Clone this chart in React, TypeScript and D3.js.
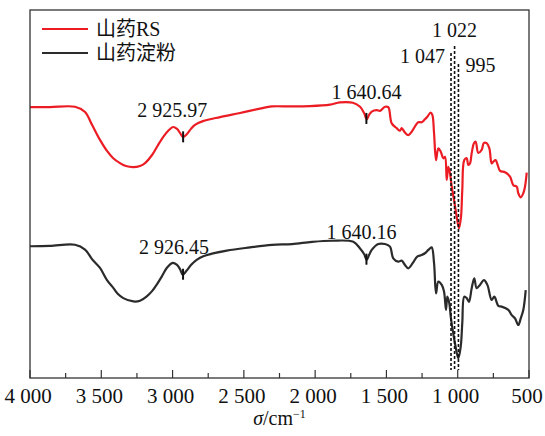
import React from "react";
import * as d3 from "d3";

// Wavenumber (cm^-1) and transmittance readings for each spectrum
const rsWavenumber = [4000, 3860, 3684, 3614, 3565, 3509, 3460, 3418, 3369, 3327, 3278, 3228, 3193, 3144, 3102, 3060, 3032, 2997, 2969, 2948, 2927, 2899, 2871, 2843, 2787, 2667, 2527, 2387, 2303, 2176, 2036, 1896, 1826, 1735, 1685, 1657, 1638, 1622, 1603, 1568, 1545, 1510, 1487, 1463, 1428, 1405, 1393, 1370, 1347, 1323, 1277, 1253, 1230, 1213, 1190, 1178, 1166, 1152, 1136, 1119, 1101, 1089, 1077, 1066, 1054, 1042, 1026, 1007, 991, 977, 968, 954, 937, 926, 914, 902, 886, 874, 856, 832, 816, 797, 778, 762, 750, 734, 720, 703, 668, 633, 610, 586, 575, 558, 540, 528, 516];
const rsValue = [73.6, 73.6, 73.7, 72.3, 68.8, 64.7, 61.7, 59.8, 58.4, 57.6, 57.3, 57.6, 58.4, 60.6, 63.3, 65.8, 67.1, 68.2, 67.7, 66.6, 65.5, 66.3, 67.7, 68.8, 69.8, 70.9, 72.0, 73.2, 73.8, 73.8, 73.9, 74.3, 74.9, 74.8, 73.7, 72.0, 70.3, 71.5, 72.4, 72.8, 72.6, 73.7, 73.6, 69.2, 67.9, 67.2, 67.9, 66.7, 66.0, 66.9, 69.5, 69.5, 70.3, 71.0, 72.1, 71.5, 66.5, 59.2, 62.4, 61.5, 59.7, 60.1, 53.8, 57.4, 55.6, 52.0, 48.4, 43.8, 40.7, 43.8, 51.1, 59.2, 59.7, 57.9, 58.3, 61.1, 63.8, 64.2, 61.2, 62.0, 63.9, 63.8, 62.4, 58.3, 58.8, 59.2, 57.9, 56.3, 55.9, 54.7, 52.4, 52.0, 50.2, 49.1, 50.2, 52.0, 55.8];

const starchWavenumber = [4000, 3860, 3684, 3614, 3565, 3509, 3460, 3416, 3383, 3346, 3275, 3228, 3181, 3144, 3111, 3074, 3041, 2999, 2971, 2948, 2929, 2901, 2871, 2831, 2784, 2620, 2457, 2303, 2162, 2022, 1883, 1732, 1685, 1657, 1638, 1622, 1603, 1557, 1510, 1475, 1452, 1417, 1393, 1370, 1347, 1316, 1284, 1253, 1230, 1206, 1183, 1166, 1152, 1136, 1112, 1096, 1082, 1073, 1059, 1049, 1035, 1019, 996, 979, 968, 954, 937, 921, 902, 884, 867, 844, 816, 792, 762, 743, 715, 692, 645, 621, 598, 575, 558, 540, 523];
const starchValue = [35.8, 35.9, 36.2, 34.9, 32.3, 29.9, 26.6, 24.5, 22.8, 21.7, 20.8, 21.0, 22.2, 23.6, 25.4, 27.7, 29.9, 31.3, 30.8, 29.6, 28.1, 29.2, 30.7, 32.1, 33.1, 34.6, 35.5, 36.2, 36.4, 37.0, 37.3, 37.0, 35.2, 33.7, 32.1, 33.4, 34.8, 36.4, 36.4, 35.7, 32.5, 31.6, 31.9, 30.7, 29.8, 31.2, 33.0, 33.4, 33.9, 34.8, 35.5, 31.2, 23.0, 26.2, 25.3, 23.5, 18.5, 22.1, 20.3, 16.7, 13.0, 9.4, 5.4, 8.5, 14.9, 22.1, 21.7, 20.7, 24.4, 27.1, 24.4, 25.3, 26.6, 25.3, 21.2, 22.1, 19.6, 19.4, 18.5, 17.1, 16.2, 14.4, 16.2, 18.5, 23.9];

const seriesNames = ["山药RS", "山药淀粉"];
const seriesColors = ["#ec1c24", "#2b2b2b"];

// Labelled absorption peaks
const rsPeaks = [2925.97, 1640.64];
const starchPeaks = [2926.45, 1640.16];
const bandLines = [1047, 1022, 995];

const xTickValues = [4000, 3500, 3000, 2500, 2000, 1500, 1000, 500];

const W = 545;
const H = 436;
const left = 30;
const right = 529;
const top = 10;
const bottom = 378;

const locale = d3.formatLocale({ decimal: ".", thousands: " ", grouping: [3], currency: ["", ""] });
const fmtInt = locale.format(",");
const fmt2 = locale.format(",.2f");

const serif = "Liberation Serif, Times New Roman, DejaVu Serif, serif";
const legendFont = "Liberation Serif, Times New Roman, Noto Sans CJK SC, serif";

export default function App() {
  const x = d3.scaleLinear().domain([4000, 500]).range([left, right]);
  const y = d3.scaleLinear().domain([0, 100]).range([bottom, top]);

  const rs = rsWavenumber.map((w, i) => [w, rsValue[i]] as [number, number]);
  const starch = starchWavenumber.map((w, i) => [w, starchValue[i]] as [number, number]);

  const line = d3
    .line<[number, number]>()
    .x((d) => x(d[0]))
    .y((d) => y(d[1]))
    .curve(d3.curveCatmullRom.alpha(0.5));

  // value of a series at a given wavenumber (linear interpolation)
  const valueAt = (data: [number, number][], w: number) => {
    for (let i = 0; i < data.length - 1; i++) {
      const [w0, v0] = data[i];
      const [w1, v1] = data[i + 1];
      if ((w0 >= w && w >= w1) || (w0 <= w && w <= w1)) {
        const t = (w - w0) / (w1 - w0);
        return v0 + t * (v1 - v0);
      }
    }
    return data[data.length - 1][1];
  };

  const minorTicks = d3.range(3750, 500, -500);

  const peakMarks = [
    ...rsPeaks.map((p, i) => ({ p, data: rs, dx: i === 0 ? -11 : 0, dy: 15 })),
    ...starchPeaks.map((p, i) => ({ p, data: starch, dx: i === 0 ? -9 : -5, dy: 16 })),
  ];

  const bandLayout = [
    { lineTop: 53, anchor: "end", dx: -6, baseline: 63 },
    { lineTop: 46, anchor: "middle", dx: 0, baseline: 37 },
    { lineTop: 64, anchor: "start", dx: 7, baseline: 72 },
  ];

  return (
    <svg width={W} height={H} style={{ position: "absolute", left: 0, top: 0, background: "#fff", fontFamily: serif }}>
      {/* spectra */}
      <path d={line(rs) ?? ""} fill="none" stroke={seriesColors[0]} strokeWidth={2.2} strokeLinejoin="round" />
      <path d={line(starch) ?? ""} fill="none" stroke={seriesColors[1]} strokeWidth={2.2} strokeLinejoin="round" />

      {/* band position guides */}
      {bandLines.map((b, i) => {
        const L = bandLayout[i];
        const bx = x(b);
        return (
          <g key={b}>
            <line x1={bx} x2={bx} y1={L.lineTop} y2={370} stroke="#111" strokeWidth={1.6} strokeDasharray="3,2" />
            <text x={bx + L.dx} y={L.baseline} fontSize={20} textAnchor={L.anchor as any} fill="#111">
              {fmtInt(b)}
            </text>
          </g>
        );
      })}

      {/* peak markers */}
      {peakMarks.map(({ p, data, dx, dy }, i) => {
        const px = x(p);
        const py = y(valueAt(data, p));
        return (
          <g key={i}>
            <line x1={px} x2={px} y1={py - 5.5} y2={py + 5.5} stroke="#111" strokeWidth={2} />
            <text x={px + dx} y={py - 5.5 - dy + 1} fontSize={20} textAnchor="middle" fill="#111">
              {fmt2(p)}
            </text>
          </g>
        );
      })}

      {/* frame */}
      <rect x={left} y={top} width={right - left} height={bottom - top} fill="none" stroke="#333" strokeWidth={1.3} />

      {/* x ticks */}
      {xTickValues.map((t) => (
        <g key={t}>
          <line x1={x(t)} x2={x(t)} y1={bottom} y2={bottom - 8} stroke="#333" strokeWidth={1.2} />
          <text x={x(t) - 2} y={403} fontSize={21} textAnchor="middle" fill="#111">
            {fmtInt(t)}
          </text>
        </g>
      ))}
      {minorTicks.map((t) => (
        <line key={t} x1={x(t)} x2={x(t)} y1={bottom} y2={bottom - 5} stroke="#333" strokeWidth={1.2} />
      ))}

      {/* axis title */}
      <text x={(left + right) / 2} y={425} fontSize={20} textAnchor="middle" fill="#111">
        <tspan fontStyle="italic">σ</tspan>
        <tspan>/cm</tspan>
        <tspan fontSize={12} dy={-7}>−1</tspan>
      </text>

      {/* legend */}
      {seriesNames.map((name, i) => (
        <g key={name} transform={`translate(0, ${29 + i * 24})`}>
          <line x1={42} x2={88} y1={0} y2={0} stroke={seriesColors[i]} strokeWidth={2} />
          <text x={96} y={7} fontSize={20} fill="#111" style={{ fontFamily: legendFont }}>
            {name}
          </text>
        </g>
      ))}
    </svg>
  );
}
